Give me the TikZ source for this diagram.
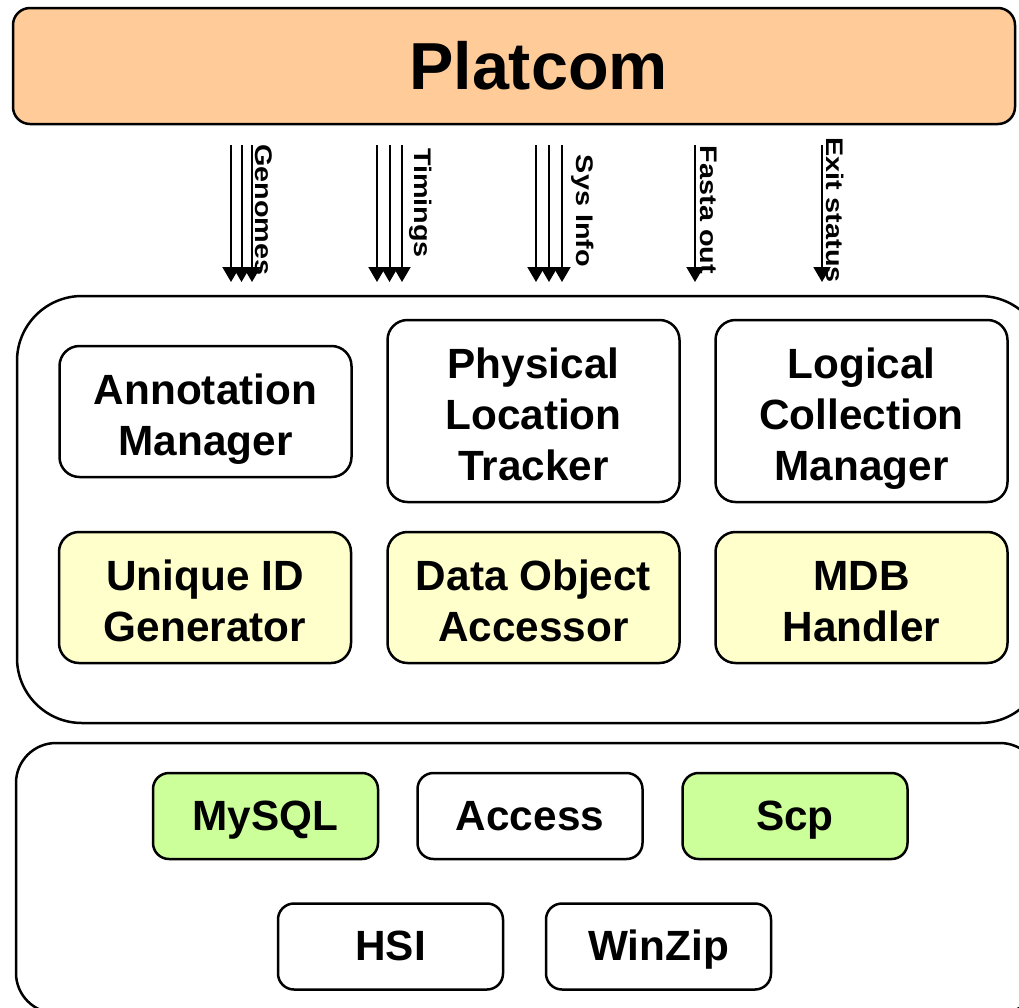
\documentclass[tikz,border=0pt]{standalone}
\usepackage{graphicx}
\usepackage{fontspec}
\setmainfont{Liberation Sans}
\usetikzlibrary{arrows.meta}
\definecolor{peach}{HTML}{FFCC99}
\definecolor{paleyellow}{HTML}{FFFFCC}
\definecolor{palegreen}{HTML}{CCFF99}
\newcommand\mytopst{\rule{0pt}{46pt}}
\newcommand\mybotst{\rule[-10pt]{0pt}{10pt}}
\newcommand\mysinglest{\rule[-10pt]{0pt}{48pt}}
\begin{document}
\begin{tikzpicture}[x=1pt,y=-1pt,
  box/.style={draw=black, line width=2.5pt, rounded corners=20pt, align=center,
    font=\fontsize{42.3}{51}\selectfont\bfseries, inner sep=0pt, text=black},
  upper/.style={box, minimum width=292pt},
  lower/.style={box, fill=paleyellow, minimum width=292pt, minimum height=131pt},
  store/.style={box, minimum width=225pt, minimum height=86pt, rounded corners=16pt},
  container/.style={draw=black, line width=2.5pt, inner sep=0pt},
  flow/.style={line width=2pt, -{Triangle[width=17pt,length=15pt]}},
  lbl/.style={rotate=-90, inner sep=0pt, font=\fontsize{24}{28}\selectfont\bfseries}
]
\useasboundingbox (0,0) rectangle (1019,1007);
\clip (0,0) rectangle (1019,1007);

% title
\node[box, fill=peach, minimum width=1002pt, minimum height=116pt, rounded corners=17pt,
  font=\fontsize{66.5}{70}\selectfont\bfseries] (platcom) at (514,66) {\hspace*{49pt}Platcom};

% containers
\node[container, rounded corners=65pt, minimum width=1028pt, minimum height=427pt] (mid) at (531,509.5) {};
\node[container, rounded corners=40pt, minimum width=1024pt, minimum height=270pt] (bot) at (528,878) {};

% upper row
\node[upper, minimum height=131pt] (annot) at (205.5,411.5) {\mytopst Annotation\\Manager\mybotst};
\node[upper, minimum height=182pt] (phys) at (533.5,411) {\mytopst Physical\\Location\\Tracker\mybotst};
\node[upper, minimum height=182pt] (logic) at (861.5,411) {\mytopst Logical\\Collection\\Manager\mybotst};

% lower row
\node[lower] (uid) at (205,597.5) {\mytopst Unique ID\\Generator\mybotst};
\node[lower] (doa) at (533.5,597.5) {\mytopst Data Object\\Accessor\mybotst};
\node[lower] (mdb) at (861.5,597.5) {\mytopst MDB\\Handler\mybotst};

% storage
\node[store, fill=palegreen] (mysql) at (265.5,816) {\mysinglest MySQL};
\node[store] (access) at (530,816) {\mysinglest Access};
\node[store, fill=palegreen] (scp) at (795,816) {\mysinglest Scp};
\node[store] (hsi) at (390.5,946.5) {\mysinglest HSI};
\node[store] (winzip) at (658.5,946.5) {\mysinglest WinZip};

% arrows
\foreach \n/\x in {ga/231,gb/241.5,gc/252,ta/377,tb/389.5,tc/402,sa/536,sb/549,sc/562,fa/695,ea/822}{
  \coordinate (\n s) at (\x,145);
  \coordinate (\n e) at (\x,282);
}
\foreach \n in {ga,gb,gc,ta,tb,tc,sa,sb,sc,fa,ea}{
  \draw[flow] (\n s) -- (\n e);
}

% labels
\node[lbl] (lgen) at (264,210) {\scalebox{1.2}[1]{Genomes}};
\node[lbl] (ltim) at (421,203) {\scalebox{1.2}[1]{Timings}};
\node[lbl] (lsys) at (583,211) {\scalebox{1.2}[1]{Sys Info}};
\node[lbl] (lfas) at (709,210) {\scalebox{1.2}[1]{Fasta out}};
\node[lbl] (lexi) at (835,210) {\scalebox{1.2}[1]{Exit status}};
\end{tikzpicture}
\end{document}
